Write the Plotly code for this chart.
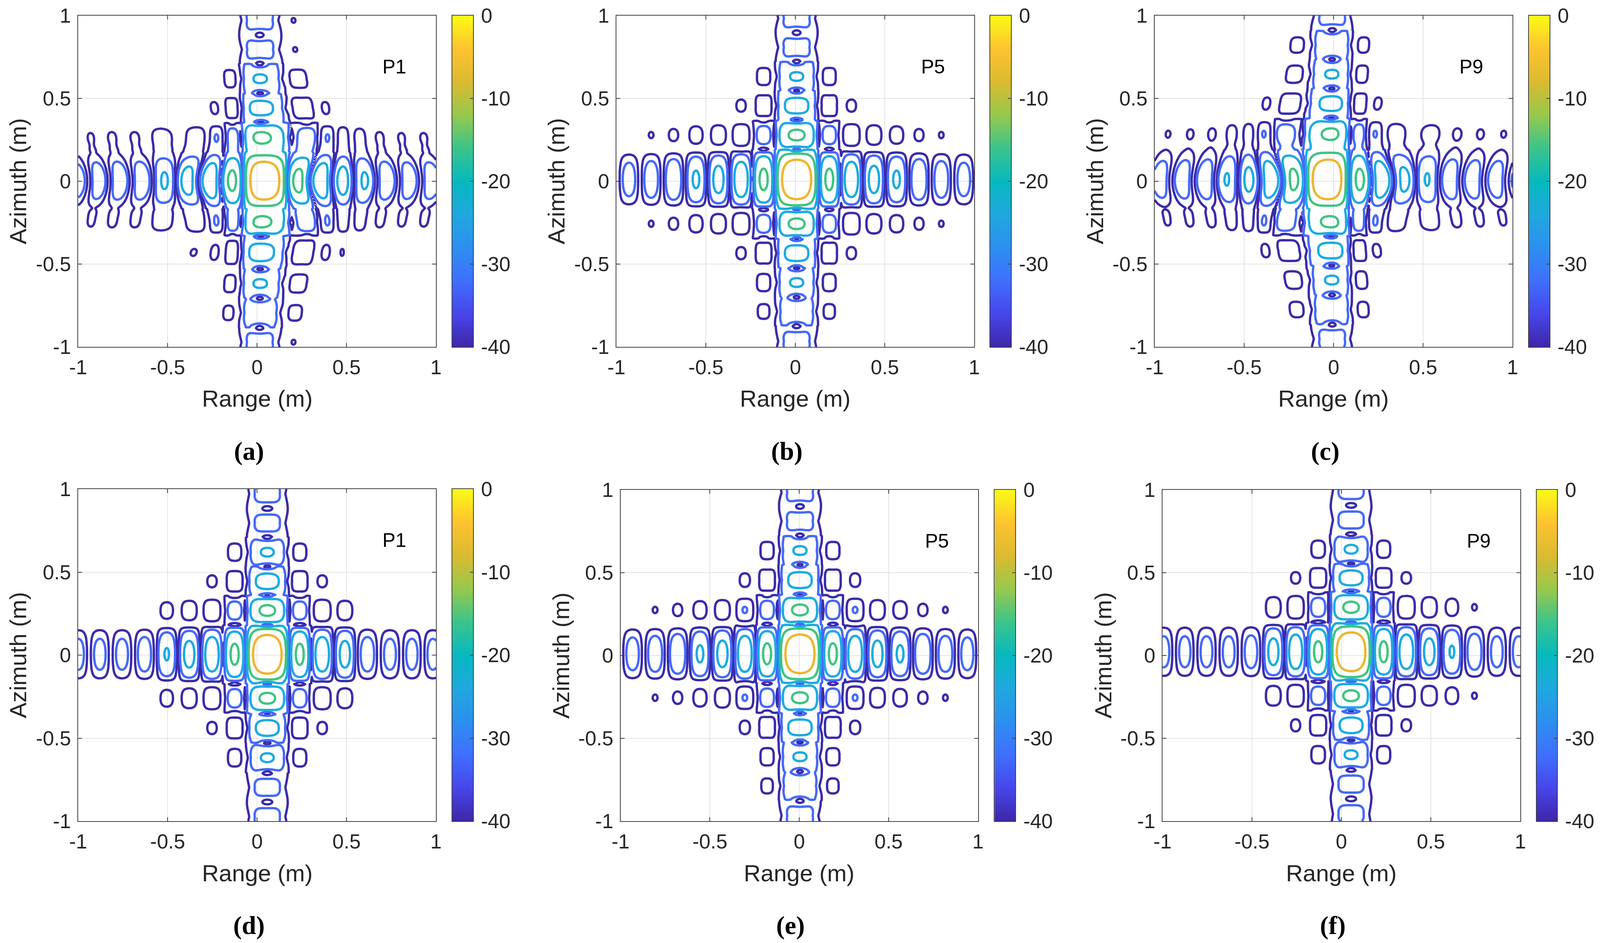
import numpy as np
import plotly.graph_objects as go

# Contour fields are rebuilt from what can be read off the reference: the null
# positions (m) and lobe peak levels (dB) along each axis of each panel.
W, H = 4319, 2414
TICK_VALS = [-1, -0.5, 0, 0.5, 1]
TICK_TEXT = ["-1", "-0.5", "0", "0.5", "1"]
CBAR_VALS = [0, -10, -20, -30, -40]
CBAR_TEXT = ["0", "-10", "-20", "-30", "-40"]
LEVEL_START, LEVEL_END, LEVEL_STEP = -38, -6, 8
LEVEL_COLORS = ["#3B2BA8", "#4569F9", "#1CABE2", "#40C482", "#EFB52F"]

CAPTIONS = ["(a)", "(b)", "(c)", "(d)", "(e)", "(f)"]
TAGS = ["P1", "P5", "P9", "P1", "P5", "P9"]

A_RANGE_NULLS = [-1.06,-.94,-.827,-.704,-.58,-.455,-.329,-.203,-.078,.165,.29,.417,.54,.664,.79,.914,1.04,1.16]
A_RANGE_PEAKS = [-25,-24.5,-24,-24,-21,-19,-17,-12.5,0,-12,-17,-19,-21,-24,-24.5,-24.5,-25]
A_AZ_NULLS = [-1.06,-.883,-.706,-.529,-.33,-.168,.175,.354,.53,.708,.883,1.06]
A_AZ_PEAKS = [-25.7,-22.5,-21,-18.5,-12.5,0,-12.5,-19,-21,-25.7,-25.7]

B_RANGE_NULLS = [-1.117,-.992,-.868,-.744,-.618,-.493,-.367,-.24,-.115,.129,.25,.376,.502,.629,.753,.878,1.004,1.13]
B_RANGE_PEAKS = [-45,-26,-25,-23.5,-21,-19.5,-17.5,-12.5,0,-12.5,-17.5,-19.5,-21,-23.5,-25,-26,-45]
B_AZ_NULLS = [-1.06,-.872,-.70,-.523,-.345,-.168,.19,.368,.545,.72,.897,1.07]
B_AZ_PEAKS = [-25.7,-22.2,-21,-18.5,-12.5,0,-12.5,-18.5,-21,-25.7,-25.7]

C_RANGE_NULLS = [-1.16,-1.035,-.91,-.785,-.66,-.535,-.412,-.285,-.157,.083,.21,.336,.46,.585,.71,.838,.968,1.09]
C_RANGE_PEAKS = [-25,-25,-24.5,-24,-21.5,-20,-17,-12.5,0,-12.5,-17,-20,-21.5,-24,-24.5,-25,-26]
C_AZ_NULLS = [-1.04,-.863,-.686,-.507,-.33,-.168,.19,.38,.558,.735,.91,1.09]
C_AZ_PEAKS = [-25.7,-22,-21,-18.5,-12.5,0,-12.5,-19,-21,-22,-25.7]

D_RANGE_NULLS = [-1.06,-.94,-.818,-.692,-.567,-.443,-.316,-.188,-.063,.177,.30,.428,.553,.68,.805,.925,1.04,1.16]
D_RANGE_PEAKS = [-26.5,-26.5,-26.5,-25.5,-21.5,-19.5,-17.5,-12.5,0,-12.5,-17.5,-19.5,-25.5,-26.5,-26.5,-26.5,-26.5]
D_AZ_NULLS = [-1.06,-.885,-.708,-.528,-.35,-.17,.18,.357,.532,.708,.883,1.06]
D_AZ_PEAKS = [-25.7,-25.7,-21,-18.5,-12.5,0,-12.5,-18.5,-21,-25.7,-25.7]

E_RANGE_NULLS = [-1.12,-.995,-.87,-.743,-.618,-.493,-.367,-.242,-.118,.126,.25,.375,.5,.628,.755,.88,1.0,1.13]
E_RANGE_PEAKS = [-45,-26,-25,-23.5,-21,-19.5,-17,-12.5,0,-12.5,-17,-19.5,-21,-23.5,-25,-26,-45]
E_AZ_NULLS = [-1.06,-.875,-.70,-.523,-.345,-.165,.185,.365,.545,.722,.9,1.07]
E_AZ_PEAKS = [-25.7,-22.2,-21,-18.5,-12.5,0,-12.5,-18.5,-21,-25.7,-25.7]

F_RANGE_NULLS = [-1.05,-.935,-.816,-.692,-.568,-.443,-.318,-.194,-.066,.174,.298,.427,.555,.68,.807,.93,1.05,1.17]
F_RANGE_PEAKS = [-26.5,-26.5,-26.5,-26.5,-26,-19.5,-17.5,-12.5,0,-12.5,-17.5,-19.5,-21.5,-25,-26.5,-26.5,-27]
F_AZ_NULLS = [-1.05,-.865,-.688,-.51,-.333,-.153,.198,.384,.553,.73,.906,1.09]
F_AZ_PEAKS = [-25.7,-25.7,-21,-18.5,-12.5,0,-12.5,-18.5,-21,-25.7,-25.7]

RANGE_NULLS = [A_RANGE_NULLS, B_RANGE_NULLS, C_RANGE_NULLS, D_RANGE_NULLS, E_RANGE_NULLS, F_RANGE_NULLS]
RANGE_PEAKS = [A_RANGE_PEAKS, B_RANGE_PEAKS, C_RANGE_PEAKS, D_RANGE_PEAKS, E_RANGE_PEAKS, F_RANGE_PEAKS]
AZ_NULLS = [A_AZ_NULLS, B_AZ_NULLS, C_AZ_NULLS, D_AZ_NULLS, E_AZ_NULLS, F_AZ_NULLS]
AZ_PEAKS = [A_AZ_PEAKS, B_AZ_PEAKS, C_AZ_PEAKS, D_AZ_PEAKS, E_AZ_PEAKS, F_AZ_PEAKS]

# column offset from main lobe (m), near and far lobe bend (m), first azimuth-null fill (dB)
COLUMN_SHIFT = [-0.03, 0, 0.03, 0, 0, 0]
LOBE_BEND = [0.13, 0, -0.13, 0, 0, 0]
FAR_BEND = [-0.035, 0, 0.035, 0, 0, 0]
NULL_FILL = [-18, -120, -18, -120, -120, -120]
BRIDGE_GAIN = [0.07, 0.07, 0.07, 0.05, 0.07, 0.05]

# pixel layout
X0 = [211, 1664, 3117, 211, 1675, 3138]
X1 = [1177, 2630, 4083, 1177, 2640, 4104]
Y0 = [40, 40, 40, 1252, 1254, 1254]
Y1 = [888, 888, 888, 2102, 2102, 2102]
CB0 = [1221, 2673, 4127, 1221, 2685, 4148]
CB1 = [1277, 2729, 4183, 1277, 2741, 4203]
RANGE_X = [694, 2146, 3599, 694, 2157, 3620]
CAP_X = [672, 2124, 3577, 672, 2134, 3598]
AZ_X = [48, 1502, 2956, 48, 1514, 2978]
TAG_X = [1064, 2519, 3972, 1064, 2529, 3992]

PARULA = [[0, "#3E26A8"], [0.1, "#4746EB"], [0.2, "#3F6FFD"], [0.3, "#2C8FF0"], [0.4, "#1FA8DE"],
          [0.5, "#06B9BE"], [0.6, "#3BC48B"], [0.7, "#97C84C"], [0.8, "#DBBA30"], [0.9, "#FDC330"], [1, "#F9FB15"]]


def profile(nulls, peaks, t):
    out = np.zeros_like(t, dtype=float)
    for i, pk in enumerate(peaks):
        lo, hi = nulls[i], nulls[i + 1]
        mask = (t >= lo) & (t < hi)
        out[mask] = (-1) ** i * 10 ** (pk / 20) * np.sin(np.pi * (t[mask] - lo) / (hi - lo))
    return out


def field(k, x, y):
    X, Y = np.meshgrid(x, y)
    g = 1 - np.exp(-(Y / 0.2) ** 2)
    bump = np.exp(-((np.abs(X) - 0.32) / 0.18) ** 2) * np.exp(-(Y / 0.6) ** 2)
    far = (1 - np.exp(-(X / 0.5) ** 2)) * np.exp(-(Y / 0.5) ** 2)
    Xw = X - g * (COLUMN_SHIFT[k] + LOBE_BEND[k] * bump + FAR_BEND[k] * far)
    r = profile(RANGE_NULLS[k], RANGE_PEAKS[k], Xw)
    a = profile(AZ_NULLS[k], AZ_PEAKS[k], Y)
    dt = 1e-3
    dr = (profile(RANGE_NULLS[k], RANGE_PEAKS[k], Xw + dt) - profile(RANGE_NULLS[k], RANGE_PEAKS[k], Xw - dt)) / (2 * dt)
    da = (profile(AZ_NULLS[k], AZ_PEAKS[k], Y + dt) - profile(AZ_NULLS[k], AZ_PEAKS[k], Y - dt)) / (2 * dt)
    yfac = (np.abs(da) / 8.7) ** 0.6
    cross = (BRIDGE_GAIN[k] * np.abs(r) * np.abs(dr) / 6.4 + 0.04 * np.abs(dr) / 12.8) * yfac
    fill = 10 ** (NULL_FILL[k] / 20) * np.abs(r) ** 0.79 * np.exp(-((np.abs(Y) - 0.18) / 0.06) ** 2)
    m2 = (r * a) ** 2 + cross ** 2 + fill ** 2 + 1e-7
    return np.round(10 * np.log10(m2), 2)


grid_x = np.linspace(-1, 1, 321)
grid_y = np.linspace(-1, 1, 321)
cbar_ramp = np.linspace(-40, 0, 201)
levels = list(np.arange(LEVEL_START, LEVEL_END + 1, LEVEL_STEP))
span = LEVEL_END - LEVEL_START
line_scale = [[(lv - LEVEL_START) / span, c] for lv, c in zip(levels, LEVEL_COLORS)]

fig = go.Figure()
layout = {}
ann = []
font = "Liberation Sans"
for k in range(6):
    suf = "" if k == 0 else str(k + 1)
    cs = str(k + 7)
    assert len(RANGE_NULLS[k]) == len(RANGE_PEAKS[k]) + 1 and len(AZ_NULLS[k]) == len(AZ_PEAKS[k]) + 1
    fig.add_trace(go.Contour(
        x=grid_x, y=grid_y, z=field(k, grid_x, grid_y), xaxis="x" + suf, yaxis="y" + suf,
        autocontour=False, contours=dict(start=LEVEL_START, end=LEVEL_END, size=LEVEL_STEP, coloring="lines"),
        colorscale=line_scale, zmin=LEVEL_START, zmax=LEVEL_END, showscale=False,
        line=dict(width=6, smoothing=0.8), hoverinfo="skip"))
    fig.add_trace(go.Heatmap(
        x=[0, 1], y=cbar_ramp, z=[[v, v] for v in cbar_ramp], xaxis="x" + cs, yaxis="y" + cs,
        colorscale=PARULA, zmin=-40, zmax=0, showscale=False, hoverinfo="skip"))
    common = dict(ticks="inside", ticklen=10, tickwidth=2, tickcolor="#404040", zeroline=False,
                  showline=True, linecolor="#404040", linewidth=2,
                  tickfont=dict(family=font, size=52, color="#262626"))
    axis = dict(common, range=[-1, 1], tickvals=TICK_VALS, ticktext=TICK_TEXT, showgrid=True,
                gridcolor="#E4E4E4", gridwidth=2, mirror="ticks", ticklabelstandoff=6)
    layout["xaxis" + suf] = dict(axis, domain=[X0[k] / W, X1[k] / W], anchor="y" + suf)
    layout["yaxis" + suf] = dict(axis, domain=[1 - Y1[k] / H, 1 - Y0[k] / H], anchor="x" + suf)
    layout["xaxis" + cs] = dict(domain=[CB0[k] / W, CB1[k] / W], anchor="y" + cs, range=[0, 1], showticklabels=False,
                                ticks="", showgrid=False, zeroline=False, showline=True, linecolor="#404040",
                                linewidth=2, mirror=True)
    layout["yaxis" + cs] = dict(common, domain=[1 - Y1[k] / H, 1 - Y0[k] / H], anchor="x" + cs, side="right",
                                range=[-40, 0], tickvals=CBAR_VALS, ticktext=CBAR_TEXT, showgrid=False,
                                ticklen=8, mirror=True, ticklabelstandoff=8)
    ym = (Y0[k] + Y1[k]) / 2
    label_y = Y1[k] + 133
    cap_y = Y1[k] + 267
    for txt, px, py, fam, size, col, angle in [
        ("Range (m)", RANGE_X[k], label_y, font, 60, "#262626", 0),
        ("Azimuth (m)", AZ_X[k], ym, font, 60, "#262626", -90),
        (TAGS[k], TAG_X[k], Y0[k] + 131, font, 50, "#000000", 0),
        ("<b>" + CAPTIONS[k] + "</b>", CAP_X[k], cap_y, "Liberation Serif", 66, "#000000", 0),
    ]:
        ann.append(dict(text=txt, x=px / W, y=1 - py / H, xref="paper", yref="paper", xanchor="center",
                        yanchor="middle", showarrow=False, textangle=angle, font=dict(family=fam, size=size, color=col)))

fig.update_layout(margin=dict(l=0, r=0, t=0, b=0, autoexpand=False), paper_bgcolor="white", plot_bgcolor="white",
                  showlegend=False, annotations=ann, **layout)
fig.write_html("out.html", default_width="100vw", default_height="100vh", config=dict(displayModeBar=False),
               post_script="document.body.style.margin='0';")
